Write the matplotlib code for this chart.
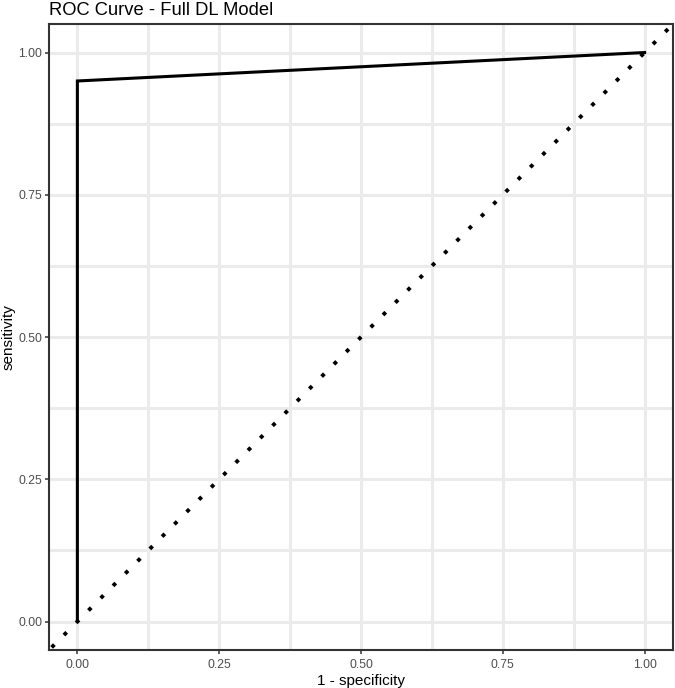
import numpy as np
import matplotlib.pyplot as plt

plt.rcParams['font.family'] = ['Liberation Sans', 'DejaVu Sans']

# ROC points (1 - specificity, sensitivity)
fpr = [0.0, 0.0, 1.0]
tpr = [0.0, 0.95, 1.0]
ref_line = [-0.05, 1.05]
major_ticks = [0.0, 0.25, 0.5, 0.75, 1.0]
minor_ticks = [0.125, 0.375, 0.625, 0.875]
tick_labels = ["0.00", "0.25", "0.50", "0.75", "1.00"]

fig = plt.figure(figsize=(6.75, 6.88), dpi=100)
ax = fig.add_axes([0.0726, 0.0552, 0.9244, 0.9098])

grid_col = '#EBEBEB'
for t in major_ticks + minor_ticks:
    ax.axvline(t, color=grid_col, lw=2.2, zorder=0)
    ax.axhline(t, color=grid_col, lw=2.2, zorder=0)

# reference diagonal (dotted)
ax.plot(ref_line, ref_line, color='black', lw=2.8, linestyle=(3.51, (1.0, 3.47)),
        dash_capstyle='butt', zorder=2)
ax.plot(fpr, tpr, color='black', lw=2.2, solid_joinstyle='miter', zorder=3)

ax.set_xlim(-0.05, 1.05)
ax.set_ylim(-0.05, 1.05)
ax.set_xticks(major_ticks)
ax.set_yticks(major_ticks)
ax.set_xticklabels(tick_labels)
ax.set_yticklabels(tick_labels)
ax.tick_params(length=2.8, width=1.1, color='#333333', labelcolor='#4D4D4D',
               labelsize=8.8, pad=2)
ax.tick_params(axis='x', pad=3.5)
for s in ax.spines.values():
    s.set_color('#333333')
    s.set_linewidth(1.5)

ax.set_xlabel('1 - specificity', fontsize=11, labelpad=2.5)
ax.set_ylabel('sensitivity', fontsize=11, labelpad=2)
ax.set_title('ROC Curve - Full DL Model', fontsize=13.2, loc='left', pad=6.5)

fig.savefig('out.png', dpi=100)
